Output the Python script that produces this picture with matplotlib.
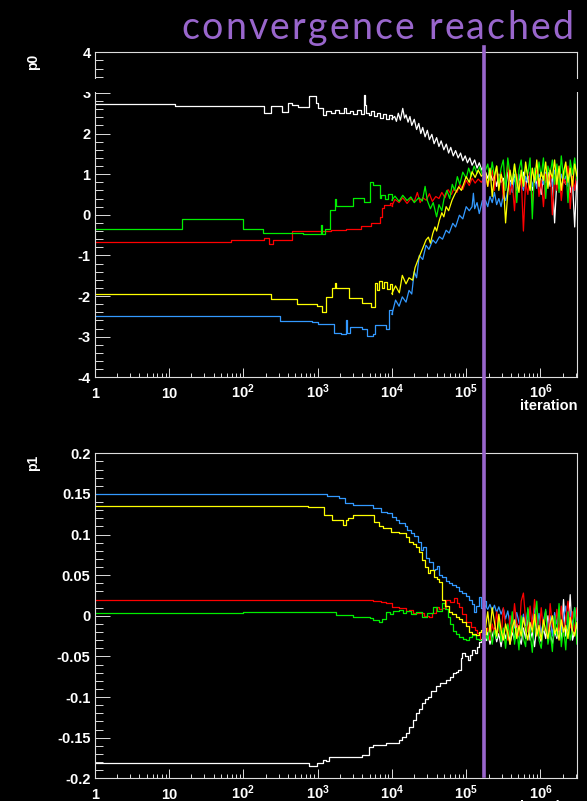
import numpy as np
import matplotlib
matplotlib.use("Agg")
import matplotlib.pyplot as plt
import matplotlib.ticker as ticker
import matplotlib.transforms as mtransforms
from matplotlib.lines import Line2D
from matplotlib.patches import Rectangle
from matplotlib.font_manager import FontProperties
from matplotlib.textpath import TextToPath

plt.rcParams['font.family'] = ['Liberation Sans', 'DejaVu Sans']
plt.rcParams['mathtext.fontset'] = 'custom'
plt.rcParams['mathtext.rm'] = 'Liberation Sans'
plt.rcParams['mathtext.bf'] = 'Liberation Sans:bold'

# chain colours
col_white = '#ffffff'
col_blue = '#3399ff'
col_red = '#ff0000'
col_green = '#00ee00'
col_yellow = '#ffff00'
col_conv = '#9966cc'

converged_at = 1.73e5

# iterations after convergence, shared by every chain
tail_it = [182000, 195000, 209000, 224000, 240000, 257000, 275000, 295000, 316000, 339000,
           363000, 389000, 417000, 447000, 479000, 513000, 550000, 589000, 631000, 676000,
           724000, 776000, 832000, 891000, 955000, 1023000, 1096000, 1175000, 1259000, 1349000,
           1445000, 1549000, 1660000, 1778000, 1905000, 2042000, 2188000, 2344000, 2512000, 2692000,
           2884000, 3090000, 3311000]

# ---------------- p0 ----------------
p0_white_it = [1, 12, 190, 234, 331, 398, 457, 550, 760, 955, 1000, 1200, 1290, 1520, 1740,
               1950, 2240, 2400, 2700, 3000, 3400, 3800, 4170, 4300, 4500, 4900, 5300, 5800,
               6300, 7000, 7600, 8300, 9100, 10000, 10900, 11500, 12200, 13000, 14000, 14800,
               15500, 16500, 17500, 18500, 20000, 21500, 23000, 24500, 26000, 28000, 30000,
               32000, 34500, 37000, 40000, 43000, 46000, 50000, 54000, 58000, 62000, 67000,
               72000, 78000, 84000, 90000, 97000, 104000, 112000, 120000, 130000, 140000,
               150000, 162000, 172000]
p0_white_val = [2.73, 2.67, 2.50, 2.67, 2.54, 2.76, 2.71, 2.66, 2.92, 2.76, 2.64, 2.45, 2.56, 2.50, 2.58,
                2.50, 2.62, 2.50, 2.55, 2.47, 2.57, 2.48, 2.95, 2.70, 2.50, 2.45, 2.56, 2.43,
                2.50, 2.38, 2.47, 2.35, 2.45, 2.36, 2.42, 2.30, 2.50, 2.33, 2.62, 2.38,
                2.46, 2.28, 2.42, 2.20, 2.35, 2.10, 2.25, 2.00, 2.15, 1.92, 2.08,
                1.85, 1.98, 1.75, 1.90, 1.68, 1.82, 1.60, 1.74, 1.52, 1.66, 1.45,
                1.58, 1.40, 1.52, 1.33, 1.45, 1.28, 1.40, 1.22, 1.35, 1.15,
                1.28, 1.10, 1.20]
p0_white_tail = [1.05, 0.90, 1.10, 0.85, 0.95, 0.70, 1.00, 0.80, 0.90, 0.65,
                 1.05, 0.85, 0.75, 1.00, 0.60, 0.90, 0.80, 1.05, 0.70, 0.95,
                 0.85, 0.60, 1.00, 0.75, 0.90, 0.50, 0.95, 0.80, 1.05, 0.70,
                 0.90, -0.20, 0.85, 1.00, 0.65, 0.90, 0.75, 1.00, 0.55, 0.85,
                 -0.30, 0.95, 0.80]

p0_blue_it = [1, 309, 832, 1023, 1660, 2089, 2400, 2500, 2700, 3980, 4680, 5500, 5900, 8300,
              9100, 10000, 11200, 12500, 13800, 15500, 17000, 18500, 20000, 21500, 23400,
              26000, 28800, 31500, 35500, 39000, 43600, 48000, 53700, 59000, 66000, 72000,
              81000, 90000, 100000, 110000, 120000, 125000, 130000, 140000, 150000, 165000]
p0_blue_val = [-2.49, -2.61, -2.64, -2.70, -2.90, -2.93, -2.58, -2.90, -2.76, -2.80, -2.99, -2.94, -2.72, -2.80,
               -2.35, -2.45, -2.10, -2.25, -2.02, -2.15, -1.86, -1.95, -1.40, -1.55, -1.00,
               -1.10, -0.75, -0.85, -0.62, -0.70, -0.54, -0.60, -0.38, -0.45, -0.21, -0.30,
               -0.01, -0.10, 0.20, 0.10, 0.20, 0.53, 0.15, 0.30, 0.03, 0.35]
p0_blue_tail = [0.35, 0.20, 0.45, 0.30, 0.55, 0.25, 0.40, 0.20, 0.50, 0.35,
                0.60, 0.80, 0.55, 0.90, 0.70, 1.00, 0.75, 0.60, 0.95, 0.80,
                1.05, 0.70, 0.90, 0.65, 1.00, 0.85, 0.75, 1.05, 0.80, 0.95,
                0.70, 1.10, 0.85, 0.65, 1.00, 0.80, 0.95, 0.70, 1.05, 0.85,
                0.60, 0.95, 0.80]

p0_red_it = [1, 68, 190, 219, 251, 447, 1514, 2400, 3800, 5250, 6900, 7300, 7800, 9300, 10000,
             11000, 12500, 14000, 16000, 18000, 20000, 22000, 24000, 26000, 29000, 32000,
             35000, 39000, 43000, 47000, 52000, 57000, 63000, 69000, 75000, 82000, 90000,
             100000, 110000, 120000, 132000, 145000, 160000]
p0_red_val = [-0.66, -0.61, -0.58, -0.72, -0.63, -0.40, -0.38, -0.34, -0.28, -0.21, -0.05, 0.16, 0.24, 0.30, 0.22,
              0.38, 0.30, 0.42, 0.28, 0.40, 0.32, 0.55, 0.30, 0.42, 0.36, 0.52,
              0.33, 0.45, 0.40, 0.55, 0.42, 0.62, 0.50, 0.65, 0.55, 0.75, 0.62,
              0.85, 0.72, 0.90, 0.78, 0.88, 0.80]
p0_red_tail = [0.95, 0.70, 0.90, 1.10, 0.60, 1.20, 0.85, 1.05, 0.40, 0.90,
               1.25, 0.50, 0.80, 0.10, 1.00, 0.65, 0.95, -0.40, 0.80, 0.50,
               1.05, 0.30, 0.90, 1.10, 0.45, 0.85, 0.20, 1.00, 0.70, 1.15,
               0.00, 0.95, 0.60, 1.10, 0.35, 0.90, 0.75, 1.20, 0.15, 0.95,
               0.60, 1.05, 0.80]

p0_green_it = [1, 15, 100, 182, 631, 1096, 1130, 1260, 1450, 1700, 1780, 2950, 4270, 5130, 5600,
               6900, 7200, 8000, 9000, 10000, 11000, 12500, 14000, 16000, 18000, 20000, 23000,
               25700, 28000, 30000, 33000, 36000, 40000, 43000, 47000, 51000, 55000, 60000,
               65000, 70000, 76000, 82000, 90000, 100000, 108000, 117000, 128000, 140000,
               152000, 165000]
p0_green_val = [-0.36, -0.11, -0.35, -0.44, -0.47, -0.25, -0.47, -0.34, 0.12, 0.40, 0.21, 0.41, 0.31, 0.80, 0.74,
                0.41, 0.48, 0.38, 0.50, 0.36, 0.46, 0.33, 0.48, 0.35, 0.44, 0.30, 0.42,
                0.34, 0.70, 0.35, 0.15, 0.30, -0.05, 0.25, 0.10, 0.45, 0.60, 0.40,
                0.75, 0.60, 0.94, 0.75, 1.05, 0.90, 1.15, 0.95, 1.20, 1.02,
                1.18, 0.98]
p0_green_tail = [1.10, 1.25, 0.85, 1.30, 0.95, 1.20, 0.75, 1.15, 1.35, 0.60,
                 1.40, 1.00, 0.80, 1.25, 0.30, 1.10, 1.35, 0.70, 1.20, 1.00,
                 1.40, -0.10, 1.15, 0.85, 1.30, 0.95, 1.40, 0.40, 1.20, 1.00,
                 1.35, 0.75, 1.25, 0.55, 1.45, 0.90, 1.20, 0.30, 1.35, 1.00,
                 1.40, 0.85, 1.30]

p0_yellow_it = [1, 234, 525, 977, 1148, 1288, 1549, 1700, 1780, 2630, 3980, 5250, 6000, 6300,
                6800, 7300, 7900, 8500, 9300, 10000, 11200, 12600, 13800, 15500, 17000, 19000,
                20500, 22000, 23400, 25000, 27000, 28800, 31000, 33000, 35500, 38000, 40000,
                43600, 47000, 50000, 53700, 58000, 64500, 70000, 79400, 86000, 100000, 110000,
                120000, 132000, 145000, 160000]
p0_yellow_val = [-1.95, -2.08, -2.20, -2.25, -2.39, -2.02, -1.81, -1.67, -1.79, -2.06, -2.18, -2.28, -1.69, -1.85,
                 -1.62, -1.80, -1.65, -1.82, -1.70, -1.94, -1.75, -1.92, -1.49, -1.70, -1.55, -1.61,
                 -1.30, -1.15, -1.03, -0.90, -0.75, -0.62, -0.55, -0.70, -0.46, -0.30, -0.40,
                 -0.13, 0.05, -0.05, 0.20, 0.10, 0.36, 0.50, 0.69, 0.60, 0.94, 0.80,
                 1.06, 0.92, 1.10, 0.95]
p0_yellow_tail = [1.05, 0.70, 1.15, 0.45, 0.95, 1.20, 0.60, 1.00, 0.80, -0.20,
                  0.55, 1.10, 0.75, 1.25, 0.85, 0.55, 1.10, 0.70, 1.30, 0.90,
                  0.60, 1.15, 0.80, 1.35, 0.70, 1.05, 0.85, 1.30, 0.65, 1.10,
                  0.90, 1.35, 0.75, 1.20, 0.60, 1.05, 1.30, 0.80, 1.15, 0.70,
                  1.25, 0.95, 1.10]

# ---------------- p1 ----------------
p1_white_it = [1, 776, 977, 1200, 1300, 1445, 4000, 4900, 5500, 8300, 12600, 13800, 15500, 17000,
               19000, 20900, 23000, 25700, 28000, 30200, 34000, 38900, 44000, 53700, 60000,
               66100, 72000, 77600, 84000, 89100, 95000, 104700, 112000, 120200, 130000,
               140000, 147900, 160000]
p1_white_val = [-0.181, -0.185, -0.1808, -0.1775, -0.179, -0.174, -0.171, -0.161, -0.159, -0.157, -0.153, -0.149, -0.1446, -0.137,
                -0.128, -0.120, -0.115, -0.1077, -0.103, -0.0996, -0.093, -0.087, -0.083, -0.079, -0.075,
                -0.0708, -0.069, -0.0667, -0.052, -0.046, -0.050, -0.0544, -0.048, -0.042, -0.046,
                -0.038, -0.032, -0.028]
p1_white_tail = [-0.030, -0.020, -0.035, -0.025, -0.015, -0.032, -0.022, -0.038, -0.018, -0.028,
                 -0.012, -0.035, -0.020, -0.030, -0.010, -0.025, -0.035, -0.015, -0.028, -0.005,
                 -0.030, -0.020, -0.038, -0.012, -0.025, -0.032, -0.015, -0.028, 0.000, -0.022,
                 -0.035, -0.018, -0.028, -0.010, -0.030, 0.020, -0.025, -0.015, 0.026, -0.030,
                 -0.020, -0.012, -0.028]

p1_blue_it = [1, 1350, 1950, 2340, 2950, 5500, 7100, 8700, 10000, 11200, 12500, 14800, 16000,
              18200, 20000, 22400, 24500, 26000, 28800, 31500, 35500, 38000, 40700, 43600,
              47900, 53000, 58900, 65000, 72400, 80000, 89100, 98000, 109600, 120000, 128800,
              136000, 147900, 160000, 172000]
p1_blue_val = [0.150, 0.1475, 0.1446, 0.1385, 0.1364, 0.1323, 0.128, 0.126, 0.122, 0.118, 0.114, 0.110, 0.106,
               0.1015, 0.098, 0.091, 0.081, 0.085, 0.071, 0.066, 0.056, 0.058, 0.061, 0.050,
               0.048, 0.043, 0.040, 0.038, 0.036, 0.031, 0.028, 0.024, 0.019, 0.014, 0.005,
               0.012, 0.0235, 0.010, 0.018]
p1_blue_tail = [0.012, 0.008, 0.014, 0.006, 0.013, 0.004, 0.011, 0.002, 0.009, -0.004,
                0.006, -0.010, 0.000, -0.015, 0.004, -0.008, -0.018, 0.002, -0.012, 0.008,
                -0.020, -0.005, 0.010, -0.015, 0.003, -0.022, -0.006, 0.006, -0.018, 0.000,
                -0.025, 0.004, -0.010, 0.008, -0.020, -0.002, 0.012, -0.015, 0.005, -0.012,
                0.010, -0.006, 0.008]

p1_red_it = [1, 2290, 5500, 7080, 8300, 10000, 12600, 15500, 17000, 19000, 23400, 27000, 31600,
             35000, 38900, 43600, 47900, 53700, 60000, 69200, 75000, 79400, 89000, 100000,
             114800, 130000, 141300, 155000, 168000]
p1_red_val = [0.0198, 0.0194, 0.0185, 0.0173, 0.0154, 0.011, 0.009, 0.0063, 0.007, 0.004, 0.003, 0.000, -0.001,
              0.004, 0.011, 0.008, 0.009, 0.0194, 0.017, 0.0215, 0.016, 0.011, 0.002, -0.0073,
              -0.0134, -0.018, -0.0215, -0.030, -0.024]
p1_red_tail = [-0.025, -0.015, -0.030, -0.010, -0.022, 0.005, -0.018, -0.028, 0.010, -0.012,
               -0.030, 0.000, -0.020, 0.015, -0.010, -0.025, 0.018, 0.028, -0.005, -0.020,
               0.012, -0.015, 0.020, -0.008, -0.025, 0.010, -0.018, 0.005, -0.030, 0.015,
               -0.012, -0.022, 0.008, -0.018, 0.012, -0.025, -0.005, 0.018, -0.015, 0.005,
               -0.020, 0.010, -0.012]

p1_green_it = [1, 100, 1780, 2950, 5000, 5500, 6760, 7400, 8300, 9300, 10500, 12600, 14000, 15500,
               18000, 21000, 25700, 30000, 35500, 40000, 47900, 52000, 56200, 60000, 66100,
               72000, 79400, 90000, 100000, 110000, 120200, 135000, 147900, 165000]
p1_green_val = [0.0034, 0.0043, 0.001, -0.001, -0.003, -0.005, -0.0073, -0.004, 0.005, 0.002, 0.006, 0.007, 0.004, 0.0063,
                0.002, 0.005, -0.001, 0.004, 0.011, 0.006, 0.0154, 0.008, -0.001, -0.010, -0.0182,
                -0.022, -0.0257, -0.028, -0.030, -0.026, -0.024, -0.028, -0.030, -0.026]
p1_green_tail = [-0.020, -0.030, -0.012, -0.035, -0.018, -0.028, -0.005, -0.032, -0.015, -0.040,
                 -0.010, -0.025, 0.005, -0.035, -0.015, -0.042, 0.000, -0.028, -0.038, 0.010,
                 -0.020, -0.045, -0.008, 0.018, -0.030, -0.040, -0.012, 0.008, -0.035, -0.020,
                 -0.044, 0.000, -0.025, 0.015, -0.038, -0.015, -0.042, 0.005, -0.030, -0.018,
                 0.010, -0.035, -0.010]

p1_yellow_it = [1, 740, 1230, 1585, 2200, 2400, 2600, 2950, 5500, 5800, 6800, 7600, 9800, 12600,
                15500, 17000, 19000, 20900, 23000, 25700, 28000, 30200, 33000, 37200, 40000,
                43600, 47900, 52000, 58900, 65000, 72400, 80000, 89100, 98000, 109600, 120000,
                134900, 147900, 160000, 172000]
p1_yellow_val = [0.1355, 0.134, 0.124, 0.118, 0.112, 0.118, 0.120, 0.124, 0.124, 0.116, 0.110, 0.1077, 0.1035, 0.1015,
                 0.0974, 0.091, 0.088, 0.085, 0.078, 0.0687, 0.060, 0.0523, 0.056, 0.048, 0.045,
                 0.042, 0.0194, 0.012, 0.005, 0.002, -0.001, -0.004, -0.0073, -0.012, -0.0196, -0.022,
                 -0.024, -0.020, -0.018, -0.022]
p1_yellow_tail = [-0.015, 0.005, -0.020, 0.010, -0.008, -0.025, 0.002, -0.018, -0.030, -0.010,
                  -0.022, -0.035, -0.015, -0.005, -0.028, -0.012, -0.025, -0.002, -0.018, -0.030,
                  -0.008, -0.020, 0.002, -0.025, -0.012, -0.030, -0.005, -0.018, -0.028, -0.010,
                  0.000, -0.022, -0.015, -0.030, -0.005, -0.020, -0.012, -0.028, -0.002, -0.018,
                  -0.025, -0.008, -0.020]

p0_chains = [
    (p0_white_it, p0_white_val, p0_white_tail, col_white),
    (p0_blue_it, p0_blue_val, p0_blue_tail, col_blue),
    (p0_red_it, p0_red_val, p0_red_tail, col_red),
    (p0_green_it, p0_green_val, p0_green_tail, col_green),
    (p0_yellow_it, p0_yellow_val, p0_yellow_tail, col_yellow),
]
p1_chains = [
    (p1_white_it, p1_white_val, p1_white_tail, col_white),
    (p1_blue_it, p1_blue_val, p1_blue_tail, col_blue),
    (p1_red_it, p1_red_val, p1_red_tail, col_red),
    (p1_green_it, p1_green_val, p1_green_tail, col_green),
    (p1_yellow_it, p1_yellow_val, p1_yellow_tail, col_yellow),
]

W, H = 587, 801
fig = plt.figure(figsize=(W / 100, H / 100), dpi=100, facecolor='black')

ax_left, ax_right = 94.7, 577.0
ax_h = 325.0
ax0 = fig.add_axes([ax_left / W, 1 - 377.3 / H, (ax_right - ax_left) / W, ax_h / H])
ax1 = fig.add_axes([ax_left / W, 1 - 778.3 / H, (ax_right - ax_left) / W, ax_h / H])


def decade_label(n):
    if n == 0:
        return '1'
    if n == 1:
        return '10'
    return r'$\mathbf{10^{%d}}$' % n


def plain_label(v, pos):
    return '%g' % round(v, 6)


def style_axis(ax, ylim, ymajor, yminor, name):
    ax.set_facecolor('black')
    ax.set_xscale('log')
    ax.set_xlim(1, 3.1e6)
    ax.set_ylim(*ylim)
    ax.xaxis.set_major_locator(ticker.LogLocator(base=10, numticks=20))
    ax.xaxis.set_minor_locator(ticker.LogLocator(base=10, subs=np.arange(2, 10), numticks=200))
    ax.xaxis.set_major_formatter(ticker.NullFormatter())
    ax.xaxis.set_minor_formatter(ticker.NullFormatter())
    ax.yaxis.set_major_locator(ticker.MultipleLocator(ymajor))
    ax.yaxis.set_minor_locator(ticker.MultipleLocator(yminor))
    ax.yaxis.set_major_formatter(ticker.FuncFormatter(plain_label))
    for sp in ax.spines.values():
        sp.set_color('#dddddd')
        sp.set_linewidth(0.8)
    ax.tick_params(which='both', direction='in', colors='#dddddd', width=0.7,
                   labelcolor='white', labelsize=10.5)
    ax.tick_params(axis='y', which='major', length=10.8, pad=3)
    ax.tick_params(axis='y', which='minor', length=5.4)
    ax.tick_params(axis='x', which='major', length=6.5)
    ax.tick_params(axis='x', which='minor', length=3.2)
    for lab in ax.get_yticklabels():
        lab.set_fontweight('bold')

    # decade labels sit on a common baseline under the axis
    xtr = mtransforms.blended_transform_factory(ax.transData, ax.transAxes)
    for n in range(0, 7):
        ax.text(10.0 ** n, -21.0 / ax_h, decade_label(n), transform=xtr, color='white',
                fontsize=10.5, fontweight='bold', ha='center', va='baseline', clip_on=False)
    ax.text(1.0, -32.5 / ax_h, 'iteration', transform=ax.transAxes, color='white',
            fontsize=10.5, fontweight='bold', ha='right', va='baseline')
    ax.text(-0.128, 0.97, name, transform=ax.transAxes, rotation=90, color='white',
            fontsize=10, fontweight='bold', ha='center', va='center')


def draw_chains(ax, chains, noisy_from):
    # flat stretches of the chain as steps, the jittery part as a plain trace
    for it, val, tail, c in chains:
        x = np.concatenate([it, tail_it])
        y = np.concatenate([val, tail])
        k = int(np.searchsorted(x, noisy_from))
        ax.plot(x[:k + 1], y[:k + 1], color=c, lw=0.9, drawstyle='steps-post')
        ax.plot(x[k:], y[k:], color=c, lw=0.9)


style_axis(ax0, (-4, 4), 1, 0.2, 'p0')
style_axis(ax1, (-0.2, 0.2), 0.05, 0.01, 'p1')
draw_chains(ax0, p0_chains, 1.0e4)
draw_chains(ax1, p1_chains, tail_it[0])

# blank strip across the upper panel
fig.add_artist(Rectangle((80 / W, 1 - 92 / H), 502 / W, 12.5 / H, transform=fig.transFigure,
                         facecolor='black', edgecolor='none', zorder=5))

# convergence marker through both panels
trans = mtransforms.blended_transform_factory(ax0.transData, fig.transFigure)
fig.add_artist(Line2D([converged_at, converged_at], [1 - 46.7 / H, 1 - 776 / H],
                      transform=trans, color=col_conv, lw=2.6, zorder=6))

# spaced-out title, placed letter by letter
title = 'convergence reached'
fp = FontProperties(family=['Lato', 'DejaVu Sans'], weight='normal', size=27)
ttp = TextToPath()


def text_px(s):
    return ttp.get_text_width_height_descent(s, fp, ismath=False)[0] * 100 / 72


starts = [text_px(title[:i] + '|') - text_px('|') for i in range(len(title))]
natural = text_px(title)
x0, x1 = 181.7, 573.0
track = ((x1 - x0) - natural) / (len(title) - 1)
for i, ch in enumerate(title):
    if ch == ' ':
        continue
    fig.text((x0 + starts[i] + i * track) / W, 1 - 39.3 / H, ch, fontproperties=fp,
             color=col_conv, ha='left', va='baseline')

fig.savefig('out.png', dpi=100, facecolor='black')
